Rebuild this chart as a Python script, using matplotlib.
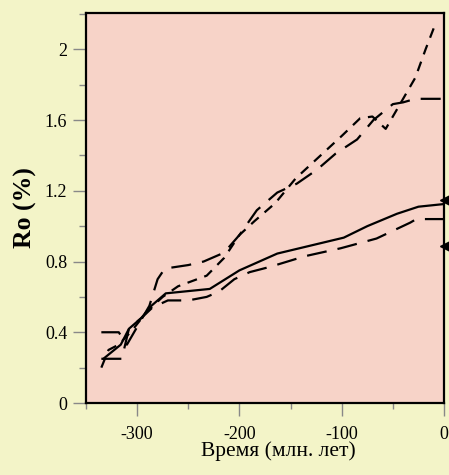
import matplotlib
matplotlib.use("Agg")
import matplotlib.pyplot as plt
from matplotlib.ticker import MultipleLocator, FixedLocator

# Solid line
a_x = [-333, -316, -308, -296, -286, -272, -229, -200, -163, -98, -75, -46, -25, 0]
a_y = [0.25, 0.33, 0.42, 0.48, 0.55, 0.62, 0.645, 0.75, 0.845, 0.935, 1.0, 1.07, 1.11, 1.125]

# Long dash, lower
b_x = [-335, -315, -308, -296, -285, -270, -250, -232, -220, -205, -190, -170, -136, -101, -66, -33, -27, 0]
b_y = [0.25, 0.25, 0.42, 0.48, 0.54, 0.58, 0.58, 0.60, 0.63, 0.70, 0.74, 0.77, 0.83, 0.875, 0.93, 1.02, 1.04, 1.04]

# Long dash, upper
c_x = [-335, -318, -310, -298, -288, -280, -273, -250, -235, -215, -200, -183, -163, -144, -124, -106, -85, -69, -50, -40, -28, 0]
c_y = [0.40, 0.40, 0.33, 0.45, 0.55, 0.70, 0.76, 0.78, 0.80, 0.85, 0.95, 1.09, 1.19, 1.24, 1.32, 1.41, 1.49, 1.60, 1.69, 1.70, 1.72, 1.72]

# Short dash, upper
d_x = [-335, -328, -318, -305, -290, -275, -260, -232, -215, -200, -185, -165, -145, -130, -100, -82, -70, -57, -42, -28, -18, -8]
d_y = [0.20, 0.30, 0.33, 0.41, 0.52, 0.60, 0.66, 0.72, 0.82, 0.95, 1.03, 1.13, 1.27, 1.35, 1.51, 1.61, 1.62, 1.55, 1.70, 1.84, 2.00, 2.15]

# Markers at right edge
m_x = [3, 3]
m_y = [1.15, 0.89]

x_ticks = [-300, -200, -100, 0]
x_labels = ["-300", "-200", "-100", "0"]
y_ticks = [0, 0.4, 0.8, 1.2, 1.6, 2.0]
y_labels = ["0", "0.4", "0.8", "1.2", "1.6", "2"]

fig = plt.figure(figsize=(4.49, 4.75), dpi=100)
fig.patch.set_facecolor("#F3F4C8")
ax = fig.add_axes([86 / 449, 72 / 475, 358 / 449, 390.3 / 475])
ax.set_facecolor("#F7D3C8")

lw = 1.6
ax.plot(a_x, a_y, color="black", lw=lw, linestyle="-")
ax.plot(b_x, b_y, color="black", lw=lw, linestyle=(0, (9, 5)))
ax.plot(c_x, c_y, color="black", lw=lw, linestyle=(0, (9, 5)))
ax.plot(d_x, d_y, color="black", lw=lw, linestyle=(0, (4.5, 3.5)))
ax.plot(m_x, m_y, linestyle="none", marker="<", color="black", markersize=10, clip_on=False)

ax.set_xlim(-350, 0)
ax.set_ylim(0, 2.207)

ax.xaxis.set_major_locator(FixedLocator(x_ticks))
ax.set_xticklabels(x_labels)
ax.xaxis.set_minor_locator(MultipleLocator(50))
ax.yaxis.set_major_locator(FixedLocator(y_ticks))
ax.set_yticklabels(y_labels)
ax.yaxis.set_minor_locator(MultipleLocator(0.2))

serif = ["Liberation Serif", "DejaVu Serif"]
for lab in ax.get_xticklabels() + ax.get_yticklabels():
    lab.set_family(serif)
    lab.set_fontsize(13)

ax.tick_params(axis="x", which="major", direction="out", length=9.5, width=1, color="#888888", pad=7)
ax.tick_params(axis="x", which="minor", direction="out", length=4.5, width=1, color="#888888")
ax.tick_params(axis="y", which="major", direction="out", length=9.5, width=1, color="#888888", pad=4)
ax.tick_params(axis="y", which="minor", direction="out", length=5, width=1, color="#888888")

for s in ax.spines.values():
    s.set_color("black")
    s.set_linewidth(1.6)

ax.set_xlabel("Время (млн. лет)", family=serif, fontsize=15.5)
ax.xaxis.set_label_coords((278 - 86) / 358, -0.098)
ax.set_ylabel("Ro (%)", family=serif, fontsize=18.5, fontweight="bold")
ax.yaxis.set_label_coords(-0.137, 0.5)

fig.savefig("out.png", dpi=100, facecolor=fig.get_facecolor())
